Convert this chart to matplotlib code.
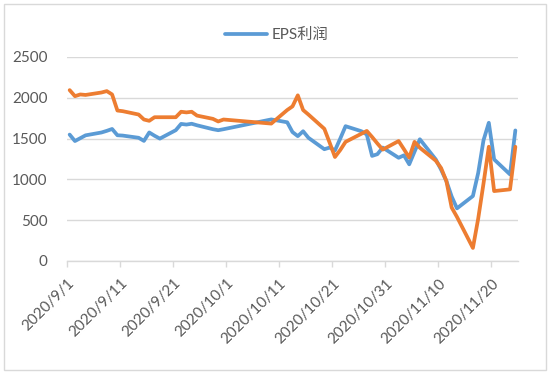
import datetime as dt
import matplotlib
matplotlib.use("Agg")
import matplotlib.pyplot as plt
import matplotlib.dates as mdates
from matplotlib.patches import Rectangle

plt.rcParams['font.family'] = ['Lato', 'Noto Sans CJK SC', 'DejaVu Sans']

# ---- data ----
sep_days = [1, 2, 3, 4, 7, 8, 9, 10, 11, 14, 15, 16, 17, 18, 21, 22, 23, 24, 25, 28, 29, 30]
oct_days = [9, 12, 13, 14, 15, 16, 19, 20, 21, 22, 23, 26, 27, 28, 29, 30]
nov_days = [2, 3, 4, 5, 6, 9, 10, 11, 12, 13, 16, 17, 18, 19, 20, 23, 24]

eps_profit = [1549, 1470, 1505, 1540, 1575, 1595, 1618, 1541, 1537, 1510, 1472, 1575, 1535, 1500,
              1603, 1680, 1672, 1682, 1663, 1615, 1603, 1615,
              1735, 1700, 1580, 1530, 1590, 1510, 1370, 1390, 1355, 1500, 1652, 1590, 1550, 1288,
              1309, 1390,
              1265, 1295, 1185, 1340, 1492, 1245, 1120, 980, 790, 645, 796, 1080, 1480, 1694, 1245,
              1061, 1600]

orange_series = [2094, 2020, 2041, 2035, 2065, 2082, 2041, 1844, 1836, 1795, 1734, 1718, 1762, 1762,
                 1762, 1829, 1821, 1829, 1782, 1742, 1710, 1734,
                 1684, 1850, 1895, 2030, 1850, 1795, 1620, 1450, 1275, 1360, 1460, 1560, 1594, 1520,
                 1440, 1365,
                 1470, 1370, 1268, 1460, 1388, 1230, 1140, 980, 655, 540, 160, 520, 950, 1400, 857,
                 878, 1400]

legend_label = "EPS利润"
tick_dates = ["2020-09-01", "2020-09-11", "2020-09-21", "2020-10-01", "2020-10-11",
              "2020-10-21", "2020-10-31", "2020-11-10", "2020-11-20"]
y_ticks = [0, 500, 1000, 1500, 2000, 2500]

# ---- build ----
dates = ([dt.date(2020, 9, d) for d in sep_days] + [dt.date(2020, 10, d) for d in oct_days]
         + [dt.date(2020, 11, d) for d in nov_days])
x = mdates.date2num(dates) + 0.5  # Excel date axis: points centred in each day slot

W, H = 550, 373
fig = plt.figure(figsize=(W / 100, H / 100), dpi=100)
ax = fig.add_axes([67 / W, 1 - 261 / H, (518 - 67) / W, (261 - 57) / H])

blue = '#5B9BD5'
orange = '#ED7D31'
ax.plot(x, eps_profit, color=blue, lw=2.7, solid_joinstyle='round', solid_capstyle='round',
        label=legend_label, zorder=3)
ax.plot(x, orange_series, color=orange, lw=2.7, solid_joinstyle='round', solid_capstyle='round',
        zorder=4)

ax.set_ylim(0, 2500)
ax.set_yticks(y_ticks)
ax.set_xlim(mdates.date2num(dt.date(2020, 9, 1)), mdates.date2num(dt.date(2020, 11, 25)))
tds = [dt.date.fromisoformat(s) for s in tick_dates]
ax.set_xticks(mdates.date2num(tds))
ax.set_xticklabels([f"{d.year}/{d.month}/{d.day}" for d in tds], rotation=45, ha='right',
                   va='top', rotation_mode='anchor')

grid_c = '#D9D9D9'
text_c = '#595959'
ax.grid(axis='y', color=grid_c, lw=1)
ax.set_axisbelow(True)
for s in ['top', 'right', 'left']:
    ax.spines[s].set_visible(False)
ax.spines['bottom'].set_color(grid_c)
ax.spines['bottom'].set_linewidth(1)
ax.tick_params(axis='y', length=0, pad=14, labelsize=11, labelcolor=text_c)
ax.tick_params(axis='x', length=4, width=1, color=grid_c, pad=7, labelsize=11, labelcolor=text_c)

fig.legend(loc='center', bbox_to_anchor=(277 / W, 1 - 35 / H), frameon=False, fontsize=11,
           labelcolor=text_c, handlelength=2.7, handletextpad=0.35)

fig.patches.append(Rectangle((4 / W, 3 / H), 542 / W, 366 / H, transform=fig.transFigure,
                             fill=False, edgecolor=grid_c, lw=1))

fig.savefig('out.png', dpi=100)
